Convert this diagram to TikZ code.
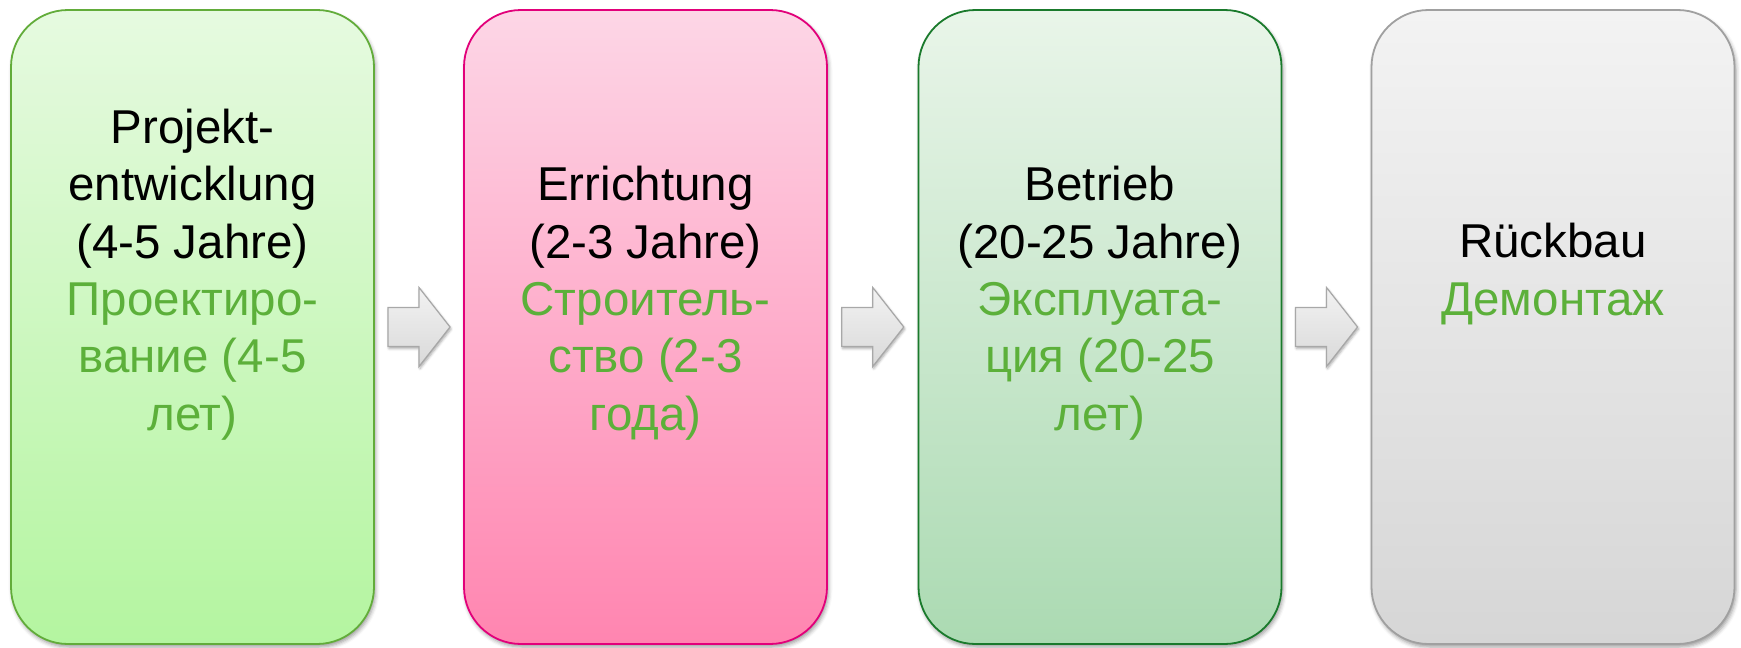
\documentclass[tikz,border=0pt]{standalone}
\usepackage{fontspec}
\setmainfont{Liberation Sans}
\usetikzlibrary{shadows.blur,calc}

\definecolor{gTop}{HTML}{E6FAE0}
\definecolor{gBot}{HTML}{B4F5A0}
\definecolor{gLine}{HTML}{62AC3A}
\definecolor{pTop}{HTML}{FDD6E6}
\definecolor{pBot}{HTML}{FF85B0}
\definecolor{pLine}{HTML}{E2007A}
\definecolor{dTop}{HTML}{E9F5E9}
\definecolor{dBot}{HTML}{ABDAB2}
\definecolor{dLine}{HTML}{1A7A2C}
\definecolor{sTop}{HTML}{F3F3F3}
\definecolor{sBot}{HTML}{D6D6D6}
\definecolor{sLine}{HTML}{A0A0A0}
\definecolor{aTop}{HTML}{F2F2F2}
\definecolor{aBot}{HTML}{D9D9D9}
\definecolor{aLine}{HTML}{A8A8A8}
\definecolor{ruGreen}{HTML}{5CB03A}

% block arrow centred at a given point, pointing right
\newcommand{\stagearrow}[1]{%
  \fill[top color=aTop, bottom color=aBot, draw=aLine, line width=1.2pt,
        blur shadow={shadow xshift=1pt, shadow yshift=-2pt, shadow blur radius=2.5pt, shadow opacity=35}]
    ($(#1)+(-31,-19.5)$) -- ($(#1)+(0,-19.5)$) -- ($(#1)+(0,-39.5)$)
    -- ($(#1)+(31,0)$) -- ($(#1)+(0,39.5)$) -- ($(#1)+(0,19.5)$)
    -- ($(#1)+(-31,19.5)$) -- cycle;}

\begin{document}
\begin{tikzpicture}[x=1pt,y=-1pt,
  phase/.style={rounded corners=57pt, minimum width=363pt, minimum height=634pt,
    inner sep=0pt, line width=1.8pt,
    blur shadow={shadow xshift=1.5pt, shadow yshift=-3pt, shadow blur radius=4pt, shadow opacity=40}},
  label/.style={font=\fontsize{47.5}{57.3}\selectfont, align=center, anchor=base, text=black, inner sep=0pt}]
\useasboundingbox (0,0) rectangle (1741,648);

\node[phase, draw=gLine, top color=gTop, bottom color=gBot] (b1) at (192.5,327) {};
\node[phase, draw=pLine, top color=pTop, bottom color=pBot] (b2) at (645.5,327) {};
\node[phase, draw=dLine, top color=dTop, bottom color=dBot] (b3) at (1100,327) {};
\node[phase, draw=sLine, top color=sTop, bottom color=sBot] (b4) at (1553,327) {};

\coordinate (g1) at ($(b1.east)!0.5!(b2.west)$);
\coordinate (g2) at ($(b2.east)!0.5!(b3.west)$);
\coordinate (g3) at ($(b3.east)!0.5!(b4.west)$);
\stagearrow{g1}
\stagearrow{g2}
\stagearrow{g3}

% the base anchor of a multi-line label sits on its last line
\node[label] (t1) at (192.5,430) {Projekt-\\entwicklung\\(4-5 Jahre)\\
  \textcolor{ruGreen}{Проектиро-}\\\textcolor{ruGreen}{вание (4-5}\\\textcolor{ruGreen}{лет)}};
\node[label] (t2) at (645.5,430) {Errichtung\\(2-3 Jahre)\\
  \textcolor{ruGreen}{Строитель-}\\\textcolor{ruGreen}{ство (2-3}\\\textcolor{ruGreen}{года)}};
\node[label] (t3) at (1100,430) {Betrieb\\(20-25 Jahre)\\
  \textcolor{ruGreen}{Эксплуата-}\\\textcolor{ruGreen}{ция (20-25}\\\textcolor{ruGreen}{лет)}};
\node[label] (t4) at (1553,315) {Rückbau\\\textcolor{ruGreen}{Демонтаж}};
\end{tikzpicture}
\end{document}
